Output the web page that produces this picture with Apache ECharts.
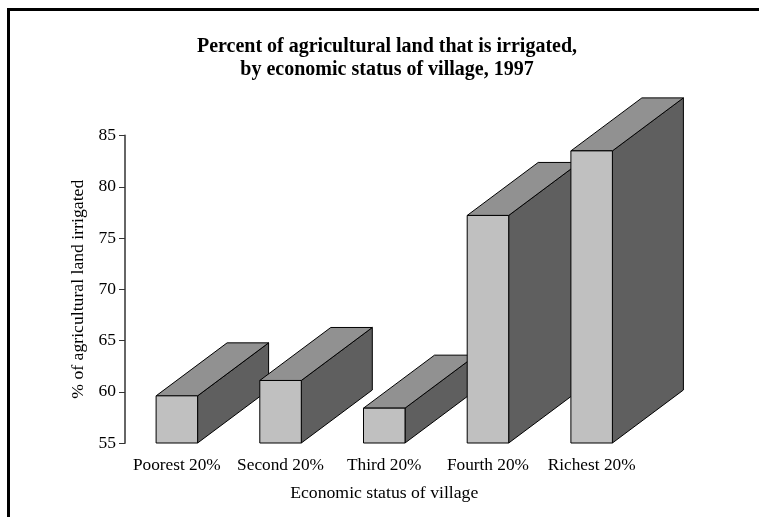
<!DOCTYPE html>
<html><head><meta charset="utf-8">
<style>html,body{margin:0;padding:0;background:#fff}#c{width:759px;height:517px}</style>
<script src="https://cdn.jsdelivr.net/npm/echarts@6/dist/echarts.min.js"></script>
</head><body><div id="c"></div>
<script>
const categories = ['Poorest 20%','Second 20%','Third 20%','Fourth 20%','Richest 20%'];
const values = [59.6, 61.1, 58.4, 77.2, 83.5];
const yTicks = [55,60,65,70,75,80,85];
const FONT = '"Liberation Serif","Times New Roman",serif';
const BAR_W = 41.5, DX = 71, DY = 53;
const chart = echarts.init(document.getElementById('c'), null, {renderer:'canvas'});
function renderItem(params, api){
  const top = api.coord([api.value(0), api.value(1)]);
  const base = api.coord([api.value(0), yTicks[0]]);
  const xl = top[0]-BAR_W/2, xr = top[0]+BAR_W/2, yt = top[1], yb = base[1];
  const ls = {stroke:'#000', lineWidth:1, lineJoin:'miter'};
  return {type:'group', silent:true, children:[
    {type:'polygon', shape:{points:[[xr,yb],[xr+DX,yb-DY],[xr+DX,yt-DY],[xr,yt]]}, style:{fill:'#5f5f5f', ...ls}},
    {type:'polygon', shape:{points:[[xl,yt],[xl+DX,yt-DY],[xr+DX,yt-DY],[xr,yt]]}, style:{fill:'#919191', ...ls}},
    {type:'rect', shape:{x:xl,y:yt,width:BAR_W,height:yb-yt}, style:{fill:'#c0c0c0', ...ls}}
  ]};
}
chart.setOption({
  animation:false,
  backgroundColor:'#fff',
  graphic:[{type:'polyline', silent:true, z:50, shape:{points:[[8.5,517],[8.5,9.5],[759,9.5]]}, style:{fill:'none',stroke:'#000',lineWidth:3}}],
  title:{text:'Percent of agricultural land that is irrigated,\nby economic status of village, 1997',
    left:382, top:30, textAlign:'center',
    textStyle:{fontFamily:FONT,fontSize:20,fontWeight:'bold',color:'#000',lineHeight:23.5}},
  grid:{left:125,top:135.5,width:518.5,height:307.5,containLabel:false},
  xAxis:{type:'category',data:categories,
    axisLine:{show:false},axisTick:{show:false},
    axisLabel:{fontFamily:FONT,fontSize:17.3,color:'#000',margin:14,interval:0},
    name:'Economic status of village',nameLocation:'middle',nameGap:41,
    nameTextStyle:{fontFamily:FONT,fontSize:17.7,color:'#000'}},
  yAxis:{type:'value',min:55,max:85,interval:5,
    splitLine:{show:false},
    axisLine:{show:true,lineStyle:{color:'#666',width:2}},
    axisTick:{show:true,length:6,lineStyle:{color:'#333',width:1}},
    axisLabel:{fontFamily:FONT,fontSize:17.5,color:'#000',margin:9},
    name:'% of agricultural land irrigated',nameLocation:'middle',nameGap:37,
    nameTextStyle:{fontFamily:FONT,fontSize:17.7,color:'#000'}},
  series:[{type:'custom',clip:false,renderItem,encode:{x:0,y:1},
    data:categories.map((c,i)=>[i,values[i]])}]
});
</script></body></html>
